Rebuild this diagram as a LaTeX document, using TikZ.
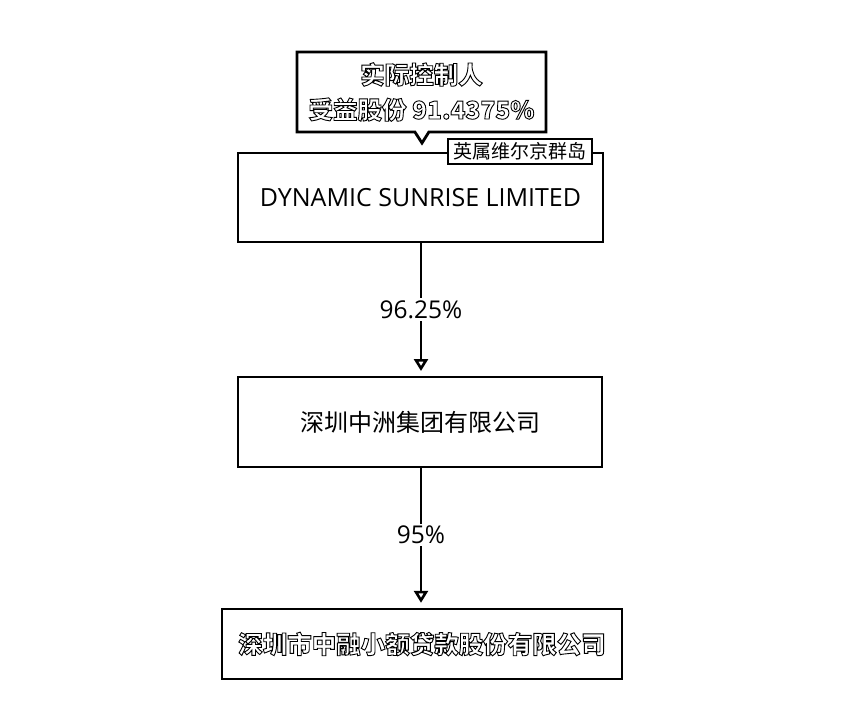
\documentclass[tikz,border=0pt]{standalone}
\usepackage{fontspec}
\setmainfont{Open Sans}
\newfontfamily\cjk{Noto Sans CJK SC}
\usetikzlibrary{arrows.meta,shapes.callouts}
\newcommand{\hollow}[1]{\special{pdf:literal direct q 2 Tr 1 g 0 G 0.9 w}#1\special{pdf:literal direct Q}}
\tikzset{
  box/.style={draw=black, line width=2pt, fill=white, minimum width=#1, inner sep=0pt},
  conn/.style={draw=black, line width=1.3pt, shorten >=5pt,
    -{Triangle[open, width=14pt, length=12pt, line width=2.6pt]}},
  pct/.style={fill=white, font=\fontsize{24.5}{26}\selectfont, inner sep=2pt},
}
\begin{document}
\begin{tikzpicture}[x=1pt,y=-1pt]
\useasboundingbox (0,0) rectangle (854,718);
% callout
\node[rectangle callout, draw=black, line width=2.8pt, fill=white,
  minimum width=249pt, minimum height=80pt, inner sep=0pt,
  callout absolute pointer={(422,143)}, callout pointer width=14pt,
  align=center, font=\cjk\bfseries\fontsize{24.5}{35}\selectfont] (ctrl) at (421.5,92)
  {\hollow{实际控制人}\\\hollow{受益股份 91.4375\%}};
% boxes
\node[box=365pt, minimum height=89pt, font=\fontsize{25}{27}\selectfont] (dyn) at (420.5,197.5) {DYNAMIC SUNRISE LIMITED};
\node[draw=black, line width=1.8pt, fill=white, minimum width=144pt, minimum height=25pt, inner sep=0pt,
  font=\cjk\fontsize{19}{20}\selectfont] (bvi) at (520,151.5) {英属维尔京群岛};
\node[box=364pt, minimum height=90pt, font=\cjk\fontsize{24}{26}\selectfont] (zz) at (420,422) {深圳中洲集团有限公司};
\node[box=400pt, minimum height=70pt, line width=2.4pt, font=\cjk\bfseries\fontsize{24.5}{26}\selectfont] (zr) at (422,644) {\hollow{深圳市中融小额贷款股份有限公司}};
% connectors
\draw[conn] (dyn.south -| 421,0) -- node[pct] (p1) {96.25\%} (zz.north -| 421,0);
\draw[conn] (zz.south -| 421,0) -- node[pct, pos=0.48] (p2) {95\%} (zr.north -| 421,0);
\end{tikzpicture}
\end{document}
